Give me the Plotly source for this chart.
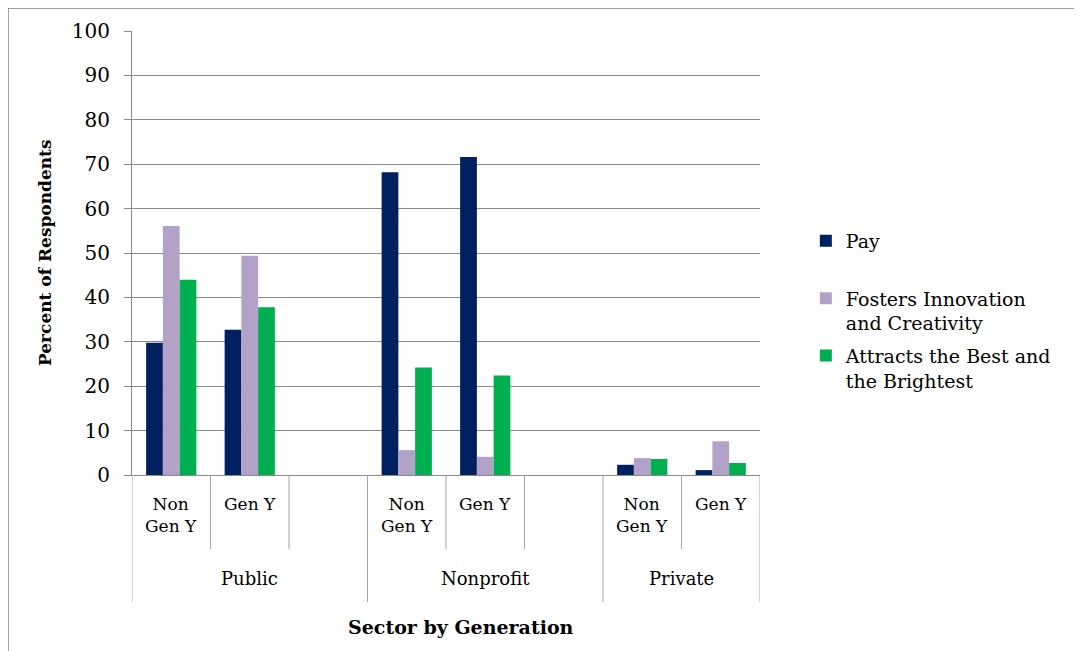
import plotly.graph_objects as go

# ---- data ----
slot_ids = ["Public|Non Gen Y", "Public|Gen Y", "Public|blank",
            "Nonprofit|Non Gen Y", "Nonprofit|Gen Y", "Nonprofit|blank",
            "Private|Non Gen Y", "Private|Gen Y"]
slot_labels = ["Non<br>Gen Y", "Gen Y", "", "Non<br>Gen Y", "Gen Y", "", "Non<br>Gen Y", "Gen Y"]
bar_slots = ["Public|Non Gen Y", "Public|Gen Y",
             "Nonprofit|Non Gen Y", "Nonprofit|Gen Y",
             "Private|Non Gen Y", "Private|Gen Y"]
sectors = ["Public", "Nonprofit", "Private"]
sector_centers = [1, 4, 6.5]
pay = [29.8, 32.7, 68.2, 71.6, 2.3, 1.1]
fosters = [56.1, 49.4, 5.6, 4.1, 3.8, 7.6]
attracts = [44.0, 37.8, 24.2, 22.4, 3.6, 2.7]
series_names = ["Pay<br> ", "Fosters Innovation<br>and Creativity", "Attracts the Best and<br>the Brightest"]
series_colors = ["#002060", "#B3A2C7", "#00B050"]
y_ticks = list(range(0, 101, 10))

FONT = "DejaVu Serif"
GRID = "#8a8a8a"

fig = go.Figure()
for i, (name, vals, col) in enumerate(zip(series_names, [pay, fosters, attracts], series_colors)):
    fig.add_trace(go.Bar(x=bar_slots, y=vals, name=name, marker_color=col,
                         marker_line_width=0, legendgroup="g%d" % i))

shapes = []
long_seps = [-0.5, 2.5, 5.5, 7.5]
short_seps = [0.5, 1.5, 3.5, 4.5, 6.5]
for xs in long_seps:
    shapes.append(dict(type="line", xref="x", yref="paper", x0=xs, x1=xs, y0=0, y1=-0.286,
                       line=dict(color="#a6a6a6", width=1)))
for xs in short_seps:
    shapes.append(dict(type="line", xref="x", yref="paper", x0=xs, x1=xs, y0=0, y1=-0.167,
                       line=dict(color="#a6a6a6", width=1)))
# outer frame (left and top edges)
shapes.append(dict(type="line", xref="paper", yref="paper", x0=-0.1975, x1=-0.1975, y0=1.052, y1=-0.42,
                   line=dict(color="#808080", width=1.5)))
shapes.append(dict(type="line", xref="paper", yref="paper", x0=-0.1975, x1=1.55, y0=1.052, y1=1.052,
                   line=dict(color="#808080", width=1.5)))

annotations = []
for sid, lab in zip(slot_ids, slot_labels):
    if lab:
        annotations.append(dict(x=sid, xref="x", y=-0.038, yref="paper", text=lab, showarrow=False,
                                yanchor="top", xanchor="center", font=dict(family=FONT, size=17, color="black")))
for s, c in zip(sectors, sector_centers):
    annotations.append(dict(x=c, xref="x", y=-0.232, yref="paper", text=s, showarrow=False,
                            yanchor="middle", xanchor="center", font=dict(family=FONT, size=18, color="black")))
annotations.append(dict(x=0.524, xref="paper", y=-0.342, yref="paper", text="<b>Sector by Generation</b>",
                        showarrow=False, yanchor="middle", font=dict(family=FONT, size=19, color="black")))
annotations.append(dict(x=-0.1385, xref="paper", y=0.5, yref="paper", text="<b>Percent of Respondents</b>",
                        showarrow=False, textangle=-90, xanchor="center", yanchor="middle",
                        font=dict(family=FONT, size=17, color="black")))

fig.update_layout(
    width=1074, height=643,
    margin=dict(l=124, r=322, t=23, b=176),
    paper_bgcolor="white", plot_bgcolor="white",
    barmode="group", bargap=0.36, bargroupgap=0,
    font=dict(family=FONT, size=17, color="black"),
    showlegend=True,
    legend=dict(x=1.073, xanchor="left", y=0.57, yanchor="top", tracegroupgap=5, valign="top",
                font=dict(family=FONT, size=19, color="black"), itemwidth=30,
                bgcolor="rgba(0,0,0,0)"),
    xaxis=dict(type="category", categoryorder="array", categoryarray=slot_ids,
               range=[-0.5, 7.5], showticklabels=False, ticks="", showgrid=False,
               showline=True, linecolor="#8a8a8a", linewidth=1, zeroline=False),
    yaxis=dict(range=[0, 100], tickvals=y_ticks, ticks="outside", ticklen=7, tickcolor=GRID,
               showgrid=True, gridcolor=GRID, gridwidth=1, showline=True, linecolor=GRID,
               linewidth=1, zeroline=False, ticklabelstandoff=10,
               tickfont=dict(family=FONT, size=20, color="black")),
    shapes=shapes, annotations=annotations,
)

fig.write_html("out.html")
